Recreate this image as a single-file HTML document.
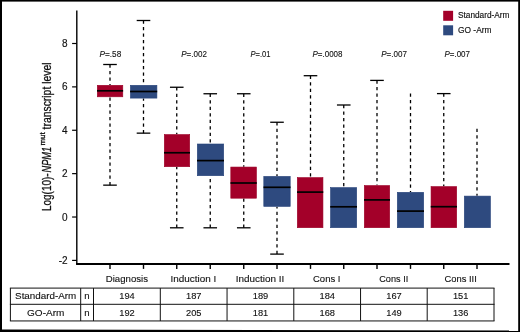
<!DOCTYPE html>
<html><head><meta charset="utf-8"><title>chart</title>
<style>
html,body{margin:0;padding:0;background:#fff;}
body{width:520px;height:332px;overflow:hidden;font-family:"Liberation Sans",sans-serif;}
svg{display:block;will-change:transform;transform:translateZ(0);}
text{font-family:"Liberation Sans",sans-serif;fill:#111;}
</style></head><body>
<svg width="520" height="332" viewBox="0 0 520 332">
<rect x="0" y="0" width="520" height="332" fill="#fff"/>
<!-- outer frame -->
<rect x="0" y="0" width="520" height="1.6" fill="#000"/>
<polygon points="0,329.5 520,330.6 520,332 0,332" fill="#000"/>
<rect x="0" y="0" width="2" height="332" fill="#000"/>
<rect x="518.2" y="0" width="1.8" height="332" fill="#000"/>

<g stroke="#000" stroke-width="1.4" fill="none">
<line x1="76.8" y1="10.5" x2="76.8" y2="264.6"/>
<line x1="76.1" y1="264" x2="509.5" y2="264" stroke-width="1.8"/>
</g>
<g stroke="#000" stroke-width="1.2" fill="none">
<line x1="72.1" y1="43.50" x2="76.8" y2="43.50"/>
<line x1="72.1" y1="86.88" x2="76.8" y2="86.88"/>
<line x1="72.1" y1="130.26" x2="76.8" y2="130.26"/>
<line x1="72.1" y1="173.64" x2="76.8" y2="173.64"/>
<line x1="72.1" y1="217.02" x2="76.8" y2="217.02"/>
<line x1="72.1" y1="260.40" x2="76.8" y2="260.40"/>
<line x1="110" y1="264" x2="110" y2="268.9" stroke-width="1.4"/>
<line x1="143.5" y1="264" x2="143.5" y2="268.9" stroke-width="1.4"/>
<line x1="176.75" y1="264" x2="176.75" y2="268.9" stroke-width="1.4"/>
<line x1="210.25" y1="264" x2="210.25" y2="268.9" stroke-width="1.4"/>
<line x1="243.75" y1="264" x2="243.75" y2="268.9" stroke-width="1.4"/>
<line x1="277" y1="264" x2="277" y2="268.9" stroke-width="1.4"/>
<line x1="310.5" y1="264" x2="310.5" y2="268.9" stroke-width="1.4"/>
<line x1="343.75" y1="264" x2="343.75" y2="268.9" stroke-width="1.4"/>
<line x1="377" y1="264" x2="377" y2="268.9" stroke-width="1.4"/>
<line x1="410.5" y1="264" x2="410.5" y2="268.9" stroke-width="1.4"/>
<line x1="443.75" y1="264" x2="443.75" y2="268.9" stroke-width="1.4"/>
<line x1="477" y1="264" x2="477" y2="268.9" stroke-width="1.4"/>
</g>
<g font-size="10" text-anchor="end" stroke="#111" stroke-width="0.15">
<text x="67.6" y="47.00">8</text>
<text x="67.6" y="90.38">6</text>
<text x="67.6" y="133.76">4</text>
<text x="67.6" y="177.14">2</text>
<text x="67.6" y="220.52">0</text>
<text x="67.6" y="263.90">-2</text>
</g>
<g stroke="#000" stroke-width="1.3" fill="none">
<line x1="110" y1="64.5" x2="110" y2="85" stroke-dasharray="3.25 3.25"/>
<line x1="103.2" y1="64.5" x2="116.8" y2="64.5"/>
<line x1="110" y1="185.15" x2="110" y2="97.1" stroke-dasharray="3.25 3.25"/>
<line x1="103.2" y1="185.15" x2="116.8" y2="185.15"/>
<line x1="143.5" y1="20.5" x2="143.5" y2="85" stroke-dasharray="3.25 3.25"/>
<line x1="136.7" y1="20.5" x2="150.3" y2="20.5"/>
<line x1="143.5" y1="133.15" x2="143.5" y2="98.4" stroke-dasharray="3.25 3.25"/>
<line x1="136.7" y1="133.15" x2="150.3" y2="133.15"/>
<line x1="176.75" y1="87.25" x2="176.75" y2="134.25" stroke-dasharray="3.25 3.25"/>
<line x1="169.95" y1="87.25" x2="183.55" y2="87.25"/>
<line x1="176.75" y1="227.8" x2="176.75" y2="167" stroke-dasharray="3.25 3.25"/>
<line x1="169.95" y1="227.8" x2="183.55" y2="227.8"/>
<line x1="210.25" y1="93.75" x2="210.25" y2="143.7" stroke-dasharray="3.25 3.25"/>
<line x1="203.45" y1="93.75" x2="217.05" y2="93.75"/>
<line x1="210.25" y1="227.8" x2="210.25" y2="176" stroke-dasharray="3.25 3.25"/>
<line x1="203.45" y1="227.8" x2="217.05" y2="227.8"/>
<line x1="243.75" y1="93.75" x2="243.75" y2="166.75" stroke-dasharray="3.25 3.25"/>
<line x1="236.95" y1="93.75" x2="250.55" y2="93.75"/>
<line x1="243.75" y1="227.8" x2="243.75" y2="198.5" stroke-dasharray="3.25 3.25"/>
<line x1="236.95" y1="227.8" x2="250.55" y2="227.8"/>
<line x1="277" y1="122.25" x2="277" y2="176.1" stroke-dasharray="3.25 3.25"/>
<line x1="270.2" y1="122.25" x2="283.8" y2="122.25"/>
<line x1="277" y1="254.1" x2="277" y2="206.7" stroke-dasharray="3.25 3.25"/>
<line x1="270.2" y1="254.1" x2="283.8" y2="254.1"/>
<line x1="310.5" y1="75.7" x2="310.5" y2="177.3" stroke-dasharray="3.25 3.25"/>
<line x1="303.7" y1="75.7" x2="317.3" y2="75.7"/>
<line x1="343.75" y1="105" x2="343.75" y2="187.3" stroke-dasharray="3.25 3.25"/>
<line x1="336.95" y1="105" x2="350.55" y2="105"/>
<line x1="377" y1="80.4" x2="377" y2="185.25" stroke-dasharray="3.25 3.25"/>
<line x1="370.2" y1="80.4" x2="383.8" y2="80.4"/>
<line x1="410.5" y1="93.5" x2="410.5" y2="192" stroke-dasharray="3.25 3.25"/>
<line x1="443.75" y1="93.6" x2="443.75" y2="186.3" stroke-dasharray="3.25 3.25"/>
<line x1="436.95" y1="93.6" x2="450.55" y2="93.6"/>
<line x1="477" y1="128.8" x2="477" y2="195.8" stroke-dasharray="3.25 3.25"/>
</g>
<rect x="97.30" y="85.30" width="25.50" height="11.50" fill="#a30029" stroke="#9c0027" stroke-width="0.6"/>
<line x1="97" y1="90.8" x2="123.1" y2="90.8" stroke="#000" stroke-width="1.7"/>
<rect x="130.40" y="85.30" width="26.50" height="12.80" fill="#2e4a7f" stroke="#27437a" stroke-width="0.6"/>
<line x1="130.1" y1="91.5" x2="157.2" y2="91.5" stroke="#000" stroke-width="1.7"/>
<rect x="164.30" y="134.55" width="25.40" height="32.15" fill="#a30029" stroke="#9c0027" stroke-width="0.6"/>
<line x1="164" y1="152.75" x2="190" y2="152.75" stroke="#000" stroke-width="1.7"/>
<rect x="197.30" y="144.00" width="26.40" height="31.70" fill="#2e4a7f" stroke="#27437a" stroke-width="0.6"/>
<line x1="197" y1="160.6" x2="224" y2="160.6" stroke="#000" stroke-width="1.7"/>
<rect x="230.80" y="167.05" width="25.65" height="31.15" fill="#a30029" stroke="#9c0027" stroke-width="0.6"/>
<line x1="230.5" y1="183" x2="256.75" y2="183" stroke="#000" stroke-width="1.7"/>
<rect x="263.80" y="176.40" width="26.40" height="30.00" fill="#2e4a7f" stroke="#27437a" stroke-width="0.6"/>
<line x1="263.5" y1="187.3" x2="290.5" y2="187.3" stroke="#000" stroke-width="1.7"/>
<rect x="297.30" y="177.60" width="25.65" height="50.10" fill="#a30029" stroke="#9c0027" stroke-width="0.6"/>
<line x1="297" y1="192.1" x2="323.25" y2="192.1" stroke="#000" stroke-width="1.7"/>
<rect x="330.55" y="187.60" width="26.15" height="40.10" fill="#2e4a7f" stroke="#27437a" stroke-width="0.6"/>
<line x1="330.25" y1="206.8" x2="357" y2="206.8" stroke="#000" stroke-width="1.7"/>
<rect x="364.30" y="185.55" width="25.40" height="42.15" fill="#a30029" stroke="#9c0027" stroke-width="0.6"/>
<line x1="364" y1="199.9" x2="390" y2="199.9" stroke="#000" stroke-width="1.7"/>
<rect x="397.30" y="192.30" width="26.40" height="35.40" fill="#2e4a7f" stroke="#27437a" stroke-width="0.6"/>
<line x1="397" y1="211.1" x2="424" y2="211.1" stroke="#000" stroke-width="1.7"/>
<rect x="431.05" y="186.60" width="25.65" height="41.10" fill="#a30029" stroke="#9c0027" stroke-width="0.6"/>
<line x1="430.75" y1="206.7" x2="457" y2="206.7" stroke="#000" stroke-width="1.7"/>
<rect x="464.30" y="196.10" width="26.15" height="31.60" fill="#2e4a7f" stroke="#27437a" stroke-width="0.6"/>
<g font-size="8.9" stroke="#111" stroke-width="0.1">
<text x="99.5" y="57.1" textLength="21.75" lengthAdjust="spacingAndGlyphs"><tspan font-style="italic">P</tspan>=.58</text>
<text x="181.25" y="57.1" textLength="25.75" lengthAdjust="spacingAndGlyphs"><tspan font-style="italic">P</tspan>=.002</text>
<text x="250.5" y="57.1" textLength="20.0" lengthAdjust="spacingAndGlyphs"><tspan font-style="italic">P</tspan>=.01</text>
<text x="312.5" y="57.1" textLength="30.0" lengthAdjust="spacingAndGlyphs"><tspan font-style="italic">P</tspan>=.0008</text>
<text x="381.25" y="57.1" textLength="25.75" lengthAdjust="spacingAndGlyphs"><tspan font-style="italic">P</tspan>=.007</text>
<text x="444.5" y="57.1" textLength="25.5" lengthAdjust="spacingAndGlyphs"><tspan font-style="italic">P</tspan>=.007</text>
</g>
<rect x="443.2" y="10.8" width="9.9" height="10" fill="#a30029"/>
<rect x="443.2" y="25.3" width="9.9" height="10" fill="#2e4a7f"/>
<text x="458" y="18.4" font-size="8.3" stroke="#111" stroke-width="0.15" textLength="51.5" lengthAdjust="spacingAndGlyphs">Standard-Arm</text>
<text x="458" y="32.9" font-size="8.3" stroke="#111" stroke-width="0.15" textLength="33.5" lengthAdjust="spacingAndGlyphs">GO -Arm</text>
<g font-size="9.8" stroke="#111" stroke-width="0.12">
<text x="105.75" y="282.4" textLength="42.25" lengthAdjust="spacingAndGlyphs">Diagnosis</text>
<text x="170.5" y="282.4" textLength="45.75" lengthAdjust="spacingAndGlyphs">Induction I</text>
<text x="235.75" y="282.4" textLength="48.5" lengthAdjust="spacingAndGlyphs">Induction II</text>
<text x="313" y="282.4" textLength="27.5" lengthAdjust="spacingAndGlyphs">Cons I</text>
<text x="379.25" y="282.4" textLength="29.0" lengthAdjust="spacingAndGlyphs">Cons II</text>
<text x="444.5" y="282.4" textLength="32.25" lengthAdjust="spacingAndGlyphs">Cons III</text>
</g>
<g stroke="#111" stroke-width="1" fill="none">
<line x1="9.9" y1="288.1" x2="494.5" y2="288.1"/>
<line x1="9.9" y1="304.3" x2="494.5" y2="304.3"/>
<line x1="9.9" y1="320.95" x2="494.5" y2="320.95"/>
<line x1="10.4" y1="288.1" x2="10.4" y2="320.95"/>
<line x1="80.7" y1="288.1" x2="80.7" y2="320.95"/>
<line x1="93.5" y1="288.1" x2="93.5" y2="320.95"/>
<line x1="160.3" y1="288.1" x2="160.3" y2="320.95"/>
<line x1="227.05" y1="288.1" x2="227.05" y2="320.95"/>
<line x1="293.8" y1="288.1" x2="293.8" y2="320.95"/>
<line x1="360.55" y1="288.1" x2="360.55" y2="320.95"/>
<line x1="427.2" y1="288.1" x2="427.2" y2="320.95"/>
<line x1="494.0" y1="288.1" x2="494.0" y2="320.95"/>
</g>
<g font-size="9.8" text-anchor="middle" stroke="#111" stroke-width="0.12">
<text x="45.7" y="299.2" textLength="61.25" lengthAdjust="spacingAndGlyphs">Standard-Arm</text>
<text x="86.9" y="299.2" font-size="9.6">n</text>
<text x="127.00" y="299.2" font-size="9.6" textLength="15.5" lengthAdjust="spacingAndGlyphs">194</text>
<text x="193.78" y="299.2" font-size="9.6" textLength="15.5" lengthAdjust="spacingAndGlyphs">187</text>
<text x="260.53" y="299.2" font-size="9.6" textLength="15.5" lengthAdjust="spacingAndGlyphs">189</text>
<text x="327.28" y="299.2" font-size="9.6" textLength="15.5" lengthAdjust="spacingAndGlyphs">184</text>
<text x="393.98" y="299.2" font-size="9.6" textLength="15.5" lengthAdjust="spacingAndGlyphs">167</text>
<text x="460.70" y="299.2" font-size="9.6" textLength="15.5" lengthAdjust="spacingAndGlyphs">151</text>
<text x="45.7" y="316.1" textLength="37.25" lengthAdjust="spacingAndGlyphs">GO-Arm</text>
<text x="86.9" y="316.1" font-size="9.6">n</text>
<text x="127.00" y="316.1" font-size="9.6" textLength="15.5" lengthAdjust="spacingAndGlyphs">192</text>
<text x="193.78" y="316.1" font-size="9.6" textLength="15.5" lengthAdjust="spacingAndGlyphs">205</text>
<text x="260.53" y="316.1" font-size="9.6" textLength="15.5" lengthAdjust="spacingAndGlyphs">181</text>
<text x="327.28" y="316.1" font-size="9.6" textLength="15.5" lengthAdjust="spacingAndGlyphs">168</text>
<text x="393.98" y="316.1" font-size="9.6" textLength="15.5" lengthAdjust="spacingAndGlyphs">149</text>
<text x="460.70" y="316.1" font-size="9.6" textLength="15.5" lengthAdjust="spacingAndGlyphs">136</text>
</g>
<g transform="translate(50.5,211) rotate(-90)" font-size="12" stroke="#111" stroke-width="0.3">
<text x="0" y="0" textLength="37.6" lengthAdjust="spacingAndGlyphs">Log(10)-</text>
<text x="38.5" y="0" font-style="italic" textLength="25.5" lengthAdjust="spacingAndGlyphs">NPM1</text>
<text x="65.4" y="-5.1" font-size="7.8" stroke-width="0.35" textLength="13.2" lengthAdjust="spacingAndGlyphs">mut</text>
<text x="81.6" y="0" textLength="66.9" lengthAdjust="spacingAndGlyphs">transcript level</text>
</g>
</svg></body></html>
